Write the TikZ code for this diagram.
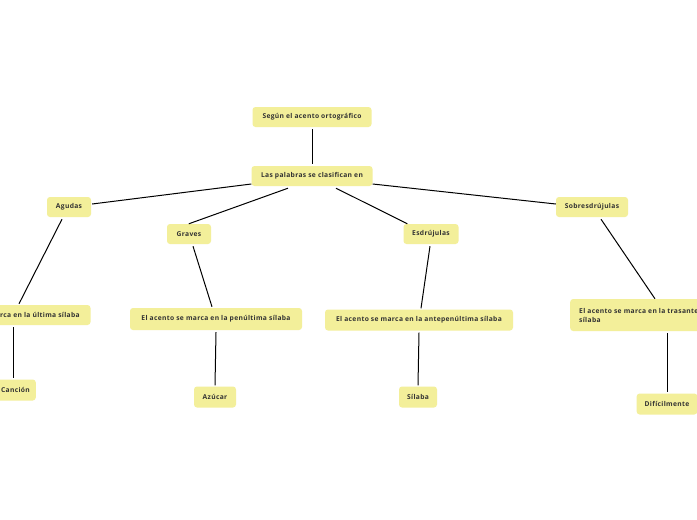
\documentclass[tikz,border=0pt]{standalone}
\usepackage{fontspec}
\usetikzlibrary{calc}
\setmainfont{Open Sans}[LetterSpace=5]
\definecolor{boxfill}{HTML}{F3EF9A}
\definecolor{txt}{HTML}{333333}
\tikzset{
  box/.style={fill=boxfill, rounded corners=3pt, minimum height=20pt, inner xsep=8pt, inner ysep=2pt,
    font=\fontsize{6.7}{9}\selectfont\bfseries, text=txt},
  link/.style={draw=black, line width=1pt}
}
\begin{document}
\begin{tikzpicture}[x=1pt,y=-1pt]
\useasboundingbox (0,0) rectangle (697,520);
\fill[white] (0,0) rectangle (697,520);
\clip (0,0) rectangle (697,520);
\node[box, minimum width=119pt] (seg) at (312,117) {Según el acento ortográfico};
\node[box, minimum width=121pt] (las) at (312,176) {Las palabras se clasifican en};
\node[box, minimum width=44pt] (agu) at (69,207) {Agudas};
\node[box, minimum width=44pt] (gra) at (189,234) {Graves};
\node[box, minimum width=55pt] (esd) at (431,234) {Esdrújulas};
\node[box, minimum width=72pt] (sob) at (592,207) {Sobresdrújulas};
\node[box, minimum width=157pt] (ult) at (12,315) {El acento se marca en la última sílaba};
\node[box, minimum width=172pt, minimum height=22pt] (pen) at (216,319) {El acento se marca en la penúltima sílaba};
\node[box, minimum width=188pt, minimum height=21pt] (ant) at (419,320) {El acento se marca en la antepenúltima sílaba};
\node[box, anchor=west, align=left, minimum height=32pt, inner xsep=9pt] (tra) at (570,315) {El acento se marca en la trasantepenúltima\\sílaba};
\node[box, anchor=east, inner xsep=6pt, minimum height=21pt] (can) at (36,390) {Canción};
\node[box, minimum width=42pt, minimum height=21pt] (azu) at (215,397) {Azúcar};
\node[box, minimum width=38pt, minimum height=21pt] (sil) at (418,397) {Sílaba};
\node[box, minimum width=60pt, minimum height=21pt] (dif) at (667,404) {Difícilmente};
\draw[link] ([yshift=-2pt]seg.south) -- ([yshift=2pt]las.north);
\draw[link] ([yshift=-8pt]las.west) -- ([xshift=1pt,yshift=3pt]agu.east);
\draw[link] ([xshift=-24pt,yshift=-2pt]las.south) -- ([xshift=22pt]gra.north west);
\draw[link] ([xshift=24pt,yshift=-2pt]las.south) -- ([xshift=4pt]esd.north west);
\draw[link] ([yshift=-8pt]las.east) -- ([yshift=3pt]sob.west);
\draw[link] ([xshift=-7pt,yshift=-2pt]agu.south) -- ([xshift=7pt,yshift=1pt]ult.north);
\draw[link] ([xshift=4pt,yshift=-2pt]gra.south) -- ([xshift=-4pt,yshift=1pt]pen.north);
\draw[link] ([xshift=-1pt,yshift=-2pt]esd.south) -- ([xshift=2pt,yshift=1pt]ant.north);
\draw[link] ([xshift=9pt,yshift=-2pt]sob.south) -- ([xshift=85pt]tra.north west);
\draw[link] ([xshift=1pt,yshift=-2pt]ult.south) -- ($(ult.south |- can.north)+(1,-1)$);
\draw[link] ([yshift=-2pt]pen.south) -- ([yshift=1pt]azu.north);
\draw[link] ([yshift=-2pt]ant.south) -- ([yshift=1pt]sil.north);
\draw[link] ([xshift=97pt,yshift=-2pt]tra.south west) -- ([yshift=1pt]dif.north);
\end{tikzpicture}
\end{document}
